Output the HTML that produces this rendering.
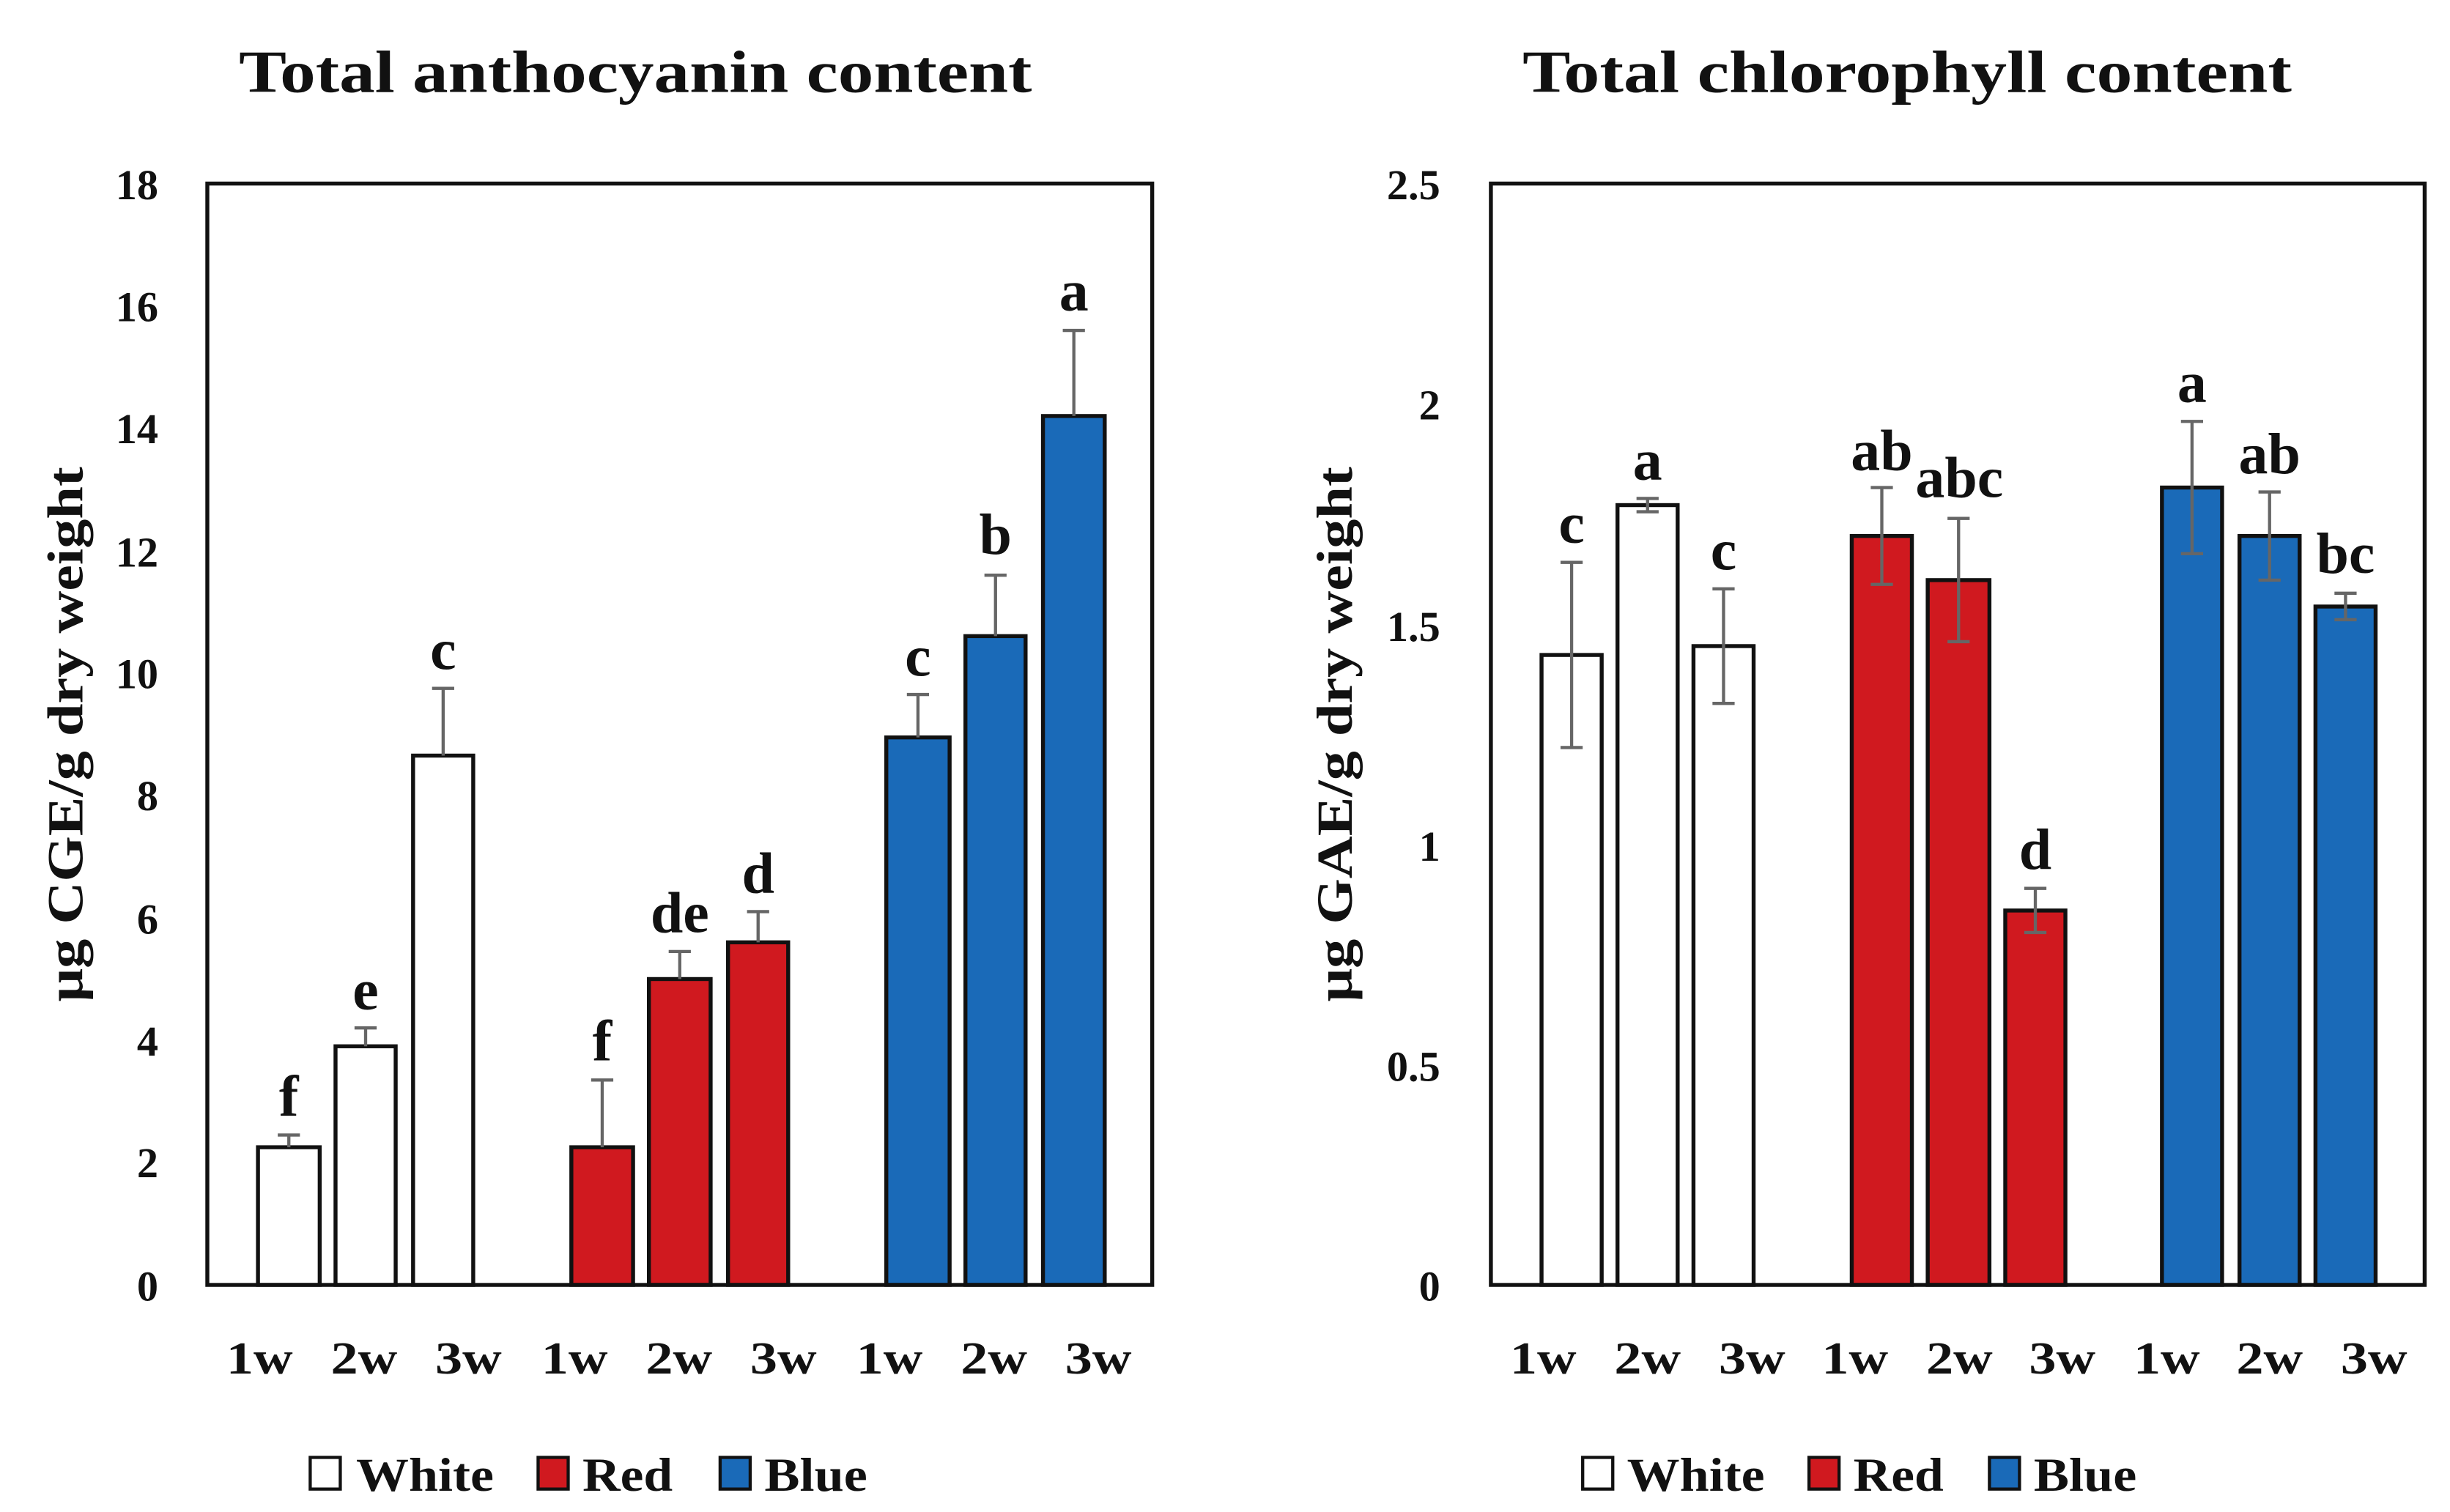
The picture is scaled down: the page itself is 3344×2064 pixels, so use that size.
<!DOCTYPE html>
<html><head><meta charset="utf-8"><style>
html,body{margin:0;padding:0;background:#fff;}
svg{display:block;}
text{font-family:"Liberation Serif",serif;font-weight:bold;fill:#111;}
</style></head><body>
<svg width="3344" height="2064" viewBox="0 0 1548 955.5" preserveAspectRatio="none" xmlns="http://www.w3.org/2000/svg">
<rect width="1548" height="955.5" fill="#fff"/>
<!-- LEFT -->
<text x="151" y="58" font-size="38" textLength="501" lengthAdjust="spacingAndGlyphs">Total anthocyanin content</text>
<g font-size="27" text-anchor="end">
<text x="100" y="822">0</text><text x="100" y="744">2</text><text x="100" y="667">4</text><text x="100" y="590">6</text><text x="100" y="512">8</text><text x="100" y="435">10</text><text x="100" y="358">12</text><text x="100" y="280">14</text><text x="100" y="203">16</text><text x="100" y="126">18</text>
</g>
<text transform="translate(52,633) rotate(-90)" font-size="32" textLength="338" lengthAdjust="spacingAndGlyphs">μg CGE/g dry weight</text>
<g stroke="#111" stroke-width="2.5">
<rect x="163" y="725" width="39" height="87" fill="#fff"/>
<rect x="212" y="661.2" width="38" height="150.8" fill="#fff"/>
<rect x="261" y="477.5" width="38" height="334.5" fill="#fff"/>
<rect x="361" y="725" width="39" height="87" fill="#d0191f"/>
<rect x="410" y="618.7" width="39" height="193.3" fill="#d0191f"/>
<rect x="460" y="595.5" width="38" height="216.5" fill="#d0191f"/>
<rect x="560" y="466" width="40" height="346" fill="#1a6ab8"/>
<rect x="610" y="402" width="38" height="410" fill="#1a6ab8"/>
<rect x="659" y="262.9" width="39" height="549.1" fill="#1a6ab8"/>
</g>
<g stroke="#666" stroke-width="2" fill="none">
<path d="M182.5 725V717.3M175.5 717.3H189.5"/>
<path d="M231 661.2V649.6M224 649.6H238"/>
<path d="M280 477.5V435M273 435H287"/>
<path d="M380.5 725V682.5M373.5 682.5H387.5"/>
<path d="M429.5 618.7V601.3M422.5 601.3H436.5"/>
<path d="M479 595.5V576.1M472 576.1H486"/>
<path d="M580 466V438.9M573 438.9H587"/>
<path d="M629 402V363.5M622 363.5H636"/>
<path d="M678.5 262.9V208.8M671.5 208.8H685.5"/>
</g>
<g font-size="37" text-anchor="middle">
<text x="182.5" y="705">f</text><text x="231" y="638">e</text><text x="280" y="423">c</text>
<text x="380.5" y="670">f</text><text x="429.5" y="589">de</text><text x="479" y="564">d</text>
<text x="580" y="427">c</text><text x="629" y="350">b</text><text x="678.5" y="196">a</text>
</g>
<rect x="131" y="116" width="597" height="696" fill="none" stroke="#111" stroke-width="2.5"/>
<g font-size="29">
<text x="143" y="868" textLength="42" lengthAdjust="spacingAndGlyphs">1w</text><text x="209" y="868" textLength="42" lengthAdjust="spacingAndGlyphs">2w</text><text x="275" y="868" textLength="42" lengthAdjust="spacingAndGlyphs">3w</text>
<text x="342" y="868" textLength="42" lengthAdjust="spacingAndGlyphs">1w</text><text x="408" y="868" textLength="42" lengthAdjust="spacingAndGlyphs">2w</text><text x="474" y="868" textLength="42" lengthAdjust="spacingAndGlyphs">3w</text>
<text x="541" y="868" textLength="42" lengthAdjust="spacingAndGlyphs">1w</text><text x="607" y="868" textLength="42" lengthAdjust="spacingAndGlyphs">2w</text><text x="673" y="868" textLength="42" lengthAdjust="spacingAndGlyphs">3w</text>
</g>
<g stroke="#111" stroke-width="2">
<rect x="196" y="921" width="19" height="20" fill="#fff"/>
<rect x="340" y="921" width="19" height="20" fill="#d0191f"/>
<rect x="455" y="921" width="19" height="20" fill="#1a6ab8"/>
</g>
<g font-size="30">
<text x="225" y="942" textLength="87" lengthAdjust="spacingAndGlyphs">White</text><text x="368" y="942" textLength="57" lengthAdjust="spacingAndGlyphs">Red</text><text x="483" y="942" textLength="65" lengthAdjust="spacingAndGlyphs">Blue</text>
</g>
<!-- RIGHT -->
<text x="962" y="58" font-size="38" textLength="486" lengthAdjust="spacingAndGlyphs">Total chlorophyll content</text>
<g font-size="27" text-anchor="end">
<text x="910" y="822">0</text><text x="910" y="683">0.5</text><text x="910" y="544">1</text><text x="910" y="405">1.5</text><text x="910" y="265">2</text><text x="910" y="126">2.5</text>
</g>
<text transform="translate(854,633) rotate(-90)" font-size="32" textLength="338" lengthAdjust="spacingAndGlyphs">μg GAE/g dry weight</text>
<g stroke="#111" stroke-width="2.5">
<rect x="974" y="413.9" width="38" height="398.1" fill="#fff"/>
<rect x="1022" y="319.2" width="38" height="492.8" fill="#fff"/>
<rect x="1070" y="408.3" width="38" height="403.7" fill="#fff"/>
<rect x="1170" y="338.7" width="38" height="473.3" fill="#d0191f"/>
<rect x="1218" y="366.6" width="39" height="445.4" fill="#d0191f"/>
<rect x="1267" y="575.4" width="38" height="236.6" fill="#d0191f"/>
<rect x="1366" y="308.1" width="38" height="503.9" fill="#1a6ab8"/>
<rect x="1415" y="338.7" width="38" height="473.3" fill="#1a6ab8"/>
<rect x="1463" y="383.3" width="38" height="428.7" fill="#1a6ab8"/>
</g>
<g stroke="#666" stroke-width="2" fill="none">
<path d="M993 472.4V355.4M986 472.4H1000M986 355.4H1000"/>
<path d="M1041 323.4V315M1034 323.4H1048M1034 315H1048"/>
<path d="M1089 444.5V372.1M1082 444.5H1096M1082 372.1H1096"/>
<path d="M1189 369.3V308.1M1182 369.3H1196M1182 308.1H1196"/>
<path d="M1237.5 405.5V327.6M1230.5 405.5H1244.5M1230.5 327.6H1244.5"/>
<path d="M1286 589.3V561.4M1279 589.3H1293M1279 561.4H1293"/>
<path d="M1385 349.9V266.3M1378 349.9H1392M1378 266.3H1392"/>
<path d="M1434 366.6V310.9M1427 366.6H1441M1427 310.9H1441"/>
<path d="M1482 391.6V374.9M1475 391.6H1489M1475 374.9H1489"/>
</g>
<g font-size="37" text-anchor="middle">
<text x="993" y="343">c</text><text x="1041" y="303">a</text><text x="1089" y="360">c</text>
<text x="1189" y="297">ab</text><text x="1238" y="314">abc</text><text x="1286" y="549">d</text>
<text x="1385" y="254">a</text><text x="1434" y="299">ab</text><text x="1482" y="362">bc</text>
</g>
<rect x="942" y="116" width="590" height="696" fill="none" stroke="#111" stroke-width="2.5"/>
<g font-size="29">
<text x="954" y="868" textLength="42" lengthAdjust="spacingAndGlyphs">1w</text><text x="1020" y="868" textLength="42" lengthAdjust="spacingAndGlyphs">2w</text><text x="1086" y="868" textLength="42" lengthAdjust="spacingAndGlyphs">3w</text>
<text x="1151" y="868" textLength="42" lengthAdjust="spacingAndGlyphs">1w</text><text x="1217" y="868" textLength="42" lengthAdjust="spacingAndGlyphs">2w</text><text x="1282" y="868" textLength="42" lengthAdjust="spacingAndGlyphs">3w</text>
<text x="1348" y="868" textLength="42" lengthAdjust="spacingAndGlyphs">1w</text><text x="1413" y="868" textLength="42" lengthAdjust="spacingAndGlyphs">2w</text><text x="1479" y="868" textLength="42" lengthAdjust="spacingAndGlyphs">3w</text>
</g>
<g stroke="#111" stroke-width="2">
<rect x="1000" y="921" width="19" height="20" fill="#fff"/>
<rect x="1143" y="921" width="19" height="20" fill="#d0191f"/>
<rect x="1257" y="921" width="19" height="20" fill="#1a6ab8"/>
</g>
<g font-size="30">
<text x="1028" y="942" textLength="87" lengthAdjust="spacingAndGlyphs">White</text><text x="1171" y="942" textLength="57" lengthAdjust="spacingAndGlyphs">Red</text><text x="1285" y="942" textLength="65" lengthAdjust="spacingAndGlyphs">Blue</text>
</g>
</svg>
</body></html>
